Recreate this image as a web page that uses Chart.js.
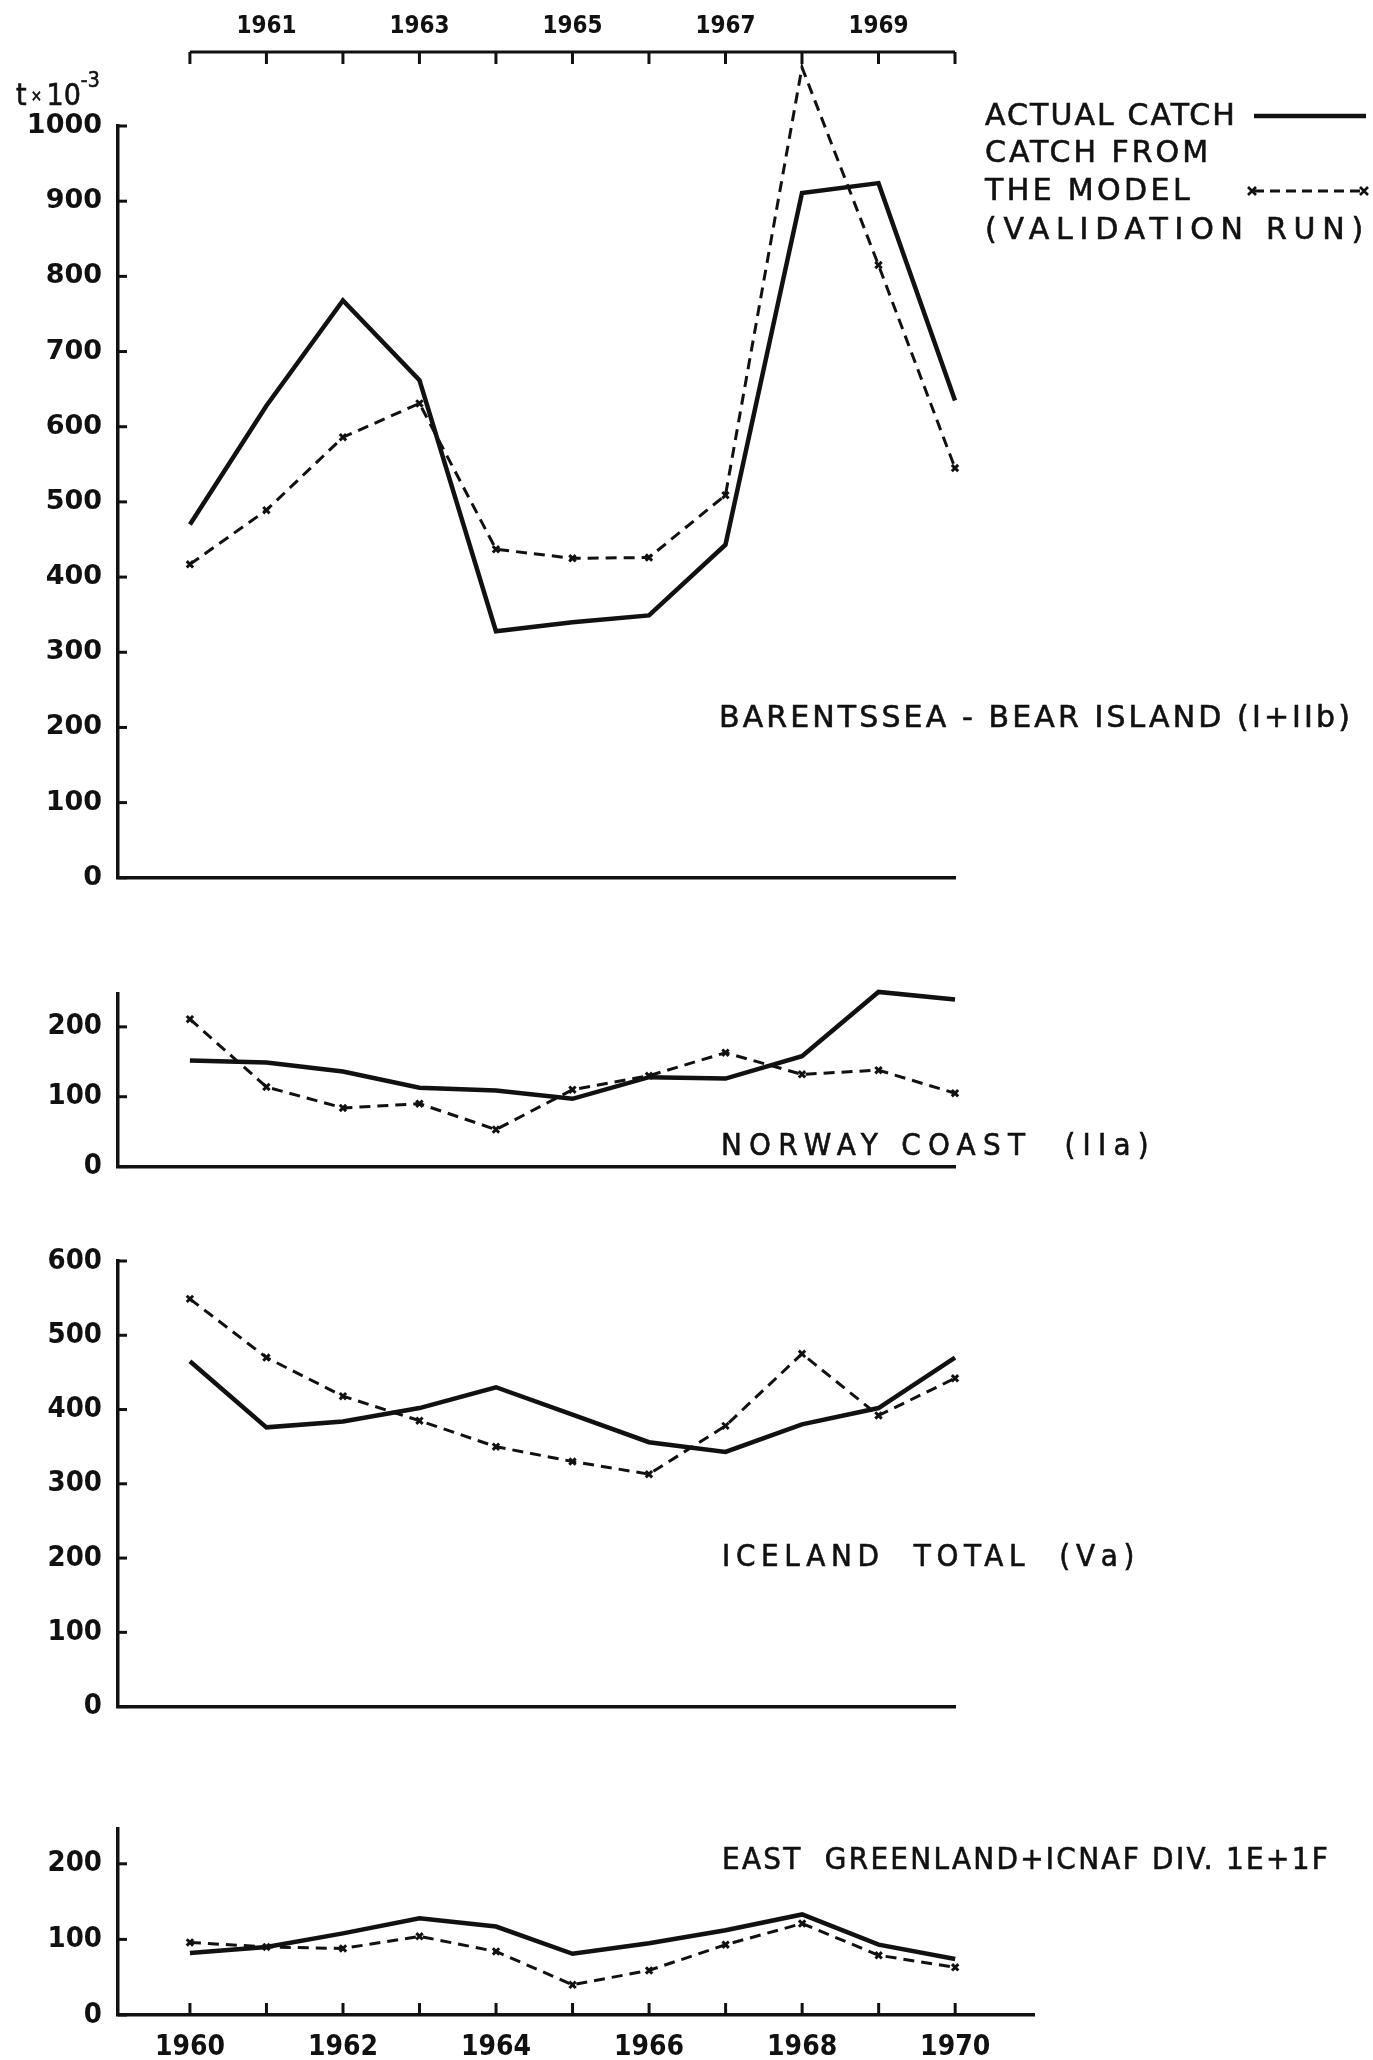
<!DOCTYPE html>
<html>
<head>
<meta charset="utf-8">
<script src="https://cdn.jsdelivr.net/npm/chart.js@4.4.0/dist/chart.umd.min.js"></script>
<style>
  body { margin: 0; background: #fff; }
  #page { position: relative; width: 1373px; height: 2060px; overflow: hidden; color: #111; font-family: 'DejaVu Sans', sans-serif; }
  canvas { position: absolute; left: 0; }
  .txt { position: absolute; white-space: pre; line-height: 1; z-index: 2; -webkit-text-stroke: 0.6px #111; }
  .cond { font-family: 'DejaVu Sans Condensed', 'DejaVu Sans', sans-serif; font-stretch: condensed; }
  svg { position: absolute; z-index: 2; }
</style>
</head>
<body>
<div id="page">
  <canvas id="c1" width="1000" height="910" style="top:0px"></canvas>
  <canvas id="c2" width="1000" height="240" style="top:960px"></canvas>
  <canvas id="c3" width="1000" height="520" style="top:1220px"></canvas>
  <canvas id="c4" width="1100" height="270" style="top:1790px"></canvas>

  <div class="txt cond" style="left:16px; top:80px; font-size:30px">t<span style="font-size:15px; vertical-align:4px"> × </span>10<span style="font-size:21px; position:relative; top:-18px">-3</span></div>

  <div class="txt" data-w="252" style="left:985px; top:100px; font-size:30px">ACTUAL CATCH</div>
  <div class="txt" data-w="226" style="left:985px; top:137px; font-size:30px">CATCH FROM</div>
  <div class="txt" data-w="208" style="left:985px; top:175px; font-size:30px">THE MODEL</div>
  <div class="txt" data-w="385" style="left:985px; top:214px; font-size:30px">(VALIDATION RUN)</div>
  <svg style="left:1244px; top:100px" width="129" height="110">
    <line x1="10" y1="16" x2="122" y2="16" stroke="#111" stroke-width="4.5"/>
    <line x1="10" y1="91" x2="118" y2="91" stroke="#111" stroke-width="3" stroke-dasharray="10 6"/>
    <path d="M4 87 l8 8 M12 87 l-8 8 M116 87 l8 8 M124 87 l-8 8" stroke="#111" stroke-width="2.6"/>
  </svg>

  <div class="txt" data-w="634" style="left:719px; top:702px; font-size:30px">BARENTSSEA - BEAR ISLAND (I+IIb)</div>
  <div class="txt cond" data-w="435" style="left:721px; top:1129px; font-size:31px">NORWAY COAST  (IIa)</div>
  <div class="txt cond" data-w="418" style="left:722px; top:1540px; font-size:31px">ICELAND  TOTAL  (Ⅴa)</div>
  <div class="txt cond" data-w="608" style="left:722px; top:1843px; font-size:31px">EAST  GREENLAND+ICNAF DIV. 1E+1F</div>
</div>
<script>
// catch in thousand tonnes
const years = [1960, 1961, 1962, 1963, 1964, 1965, 1966, 1967, 1968, 1969, 1970];
const barentsActual = [470, 628, 768, 662, 328, 340, 349, 443, 911, 924, 635];
const barentsModel = [417, 489, 586, 631, 437, 425, 426, 509, 1078, 815, 545];
const norwayActual = [152, 149, 136, 113, 109, 97, 128, 126, 158, 250, 239];
const norwayModel = [211, 114, 84, 90, 53, 110, 130, 163, 132, 138, 105];
const icelandActual = [465, 376, 384, 402, 430, 393, 356, 343, 380, 402, 470];
const icelandModel = [549, 470, 418, 385, 350, 330, 313, 378, 475, 392, 442];
const greenlandActual = [82, 90, 108, 128, 117, 81, 95, 112, 133, 93, 74];
const greenlandModel = [96, 90, 88, 104, 84, 40, 59, 93, 121, 79, 63];
const topAxisLabels = ['1961', '1963', '1965', '1967', '1969'];
const bottomAxisLabels = ['1960', '1962', '1964', '1966', '1968', '1970'];

const ink = '#111';

// fit the hand lettering widths
document.querySelectorAll('[data-w]').forEach(el => {
    const target = +el.dataset.w;
    const n = el.textContent.length;
    const w = el.getBoundingClientRect().width;
    el.style.letterSpacing = ((target - w) / n) + 'px';
});

// small tick marks drawn inside the frame, plus the year axis on top of the first panel
const frameTicks = {
    id: 'frameTicks',
    afterDraw(chart, args, opts) {
        const { ctx, chartArea, scales: { x, y } } = chart;
        ctx.save();
        ctx.strokeStyle = ink;
        ctx.lineWidth = 3;
        y.ticks.forEach((t, i) => {
            const py = y.getPixelForTick(i);
            ctx.beginPath();
            ctx.moveTo(chartArea.left, py);
            ctx.lineTo(chartArea.left + 9, py);
            ctx.stroke();
        });
        if (opts.bottomTicks) {
            years.forEach(yr => {
                const px = x.getPixelForValue(yr);
                ctx.beginPath();
                ctx.moveTo(px, chartArea.bottom);
                ctx.lineTo(px, chartArea.bottom - 12);
                ctx.stroke();
            });
        }
        if (opts.topAxis) {
            const ty = opts.topAxis;
            ctx.beginPath();
            ctx.moveTo(x.getPixelForValue(years[0]), ty);
            ctx.lineTo(x.getPixelForValue(years[years.length - 1]), ty);
            ctx.stroke();
            years.forEach(yr => {
                const px = x.getPixelForValue(yr);
                ctx.beginPath();
                ctx.moveTo(px, ty);
                ctx.lineTo(px, ty + 12);
                ctx.stroke();
            });
            ctx.fillStyle = ink;
            ctx.font = "bold 24px 'DejaVu Sans Condensed', 'DejaVu Sans'";
            ctx.textAlign = 'center';
            ctx.textBaseline = 'middle';
            topAxisLabels.forEach(lbl => {
                ctx.fillText(lbl, x.getPixelForValue(+lbl), ty - 25);
            });
        }
        ctx.restore();
    }
};

function pts(arr) {
    return years.map((yr, i) => ({ x: yr, y: arr[i] }));
}

function panel(id, o) {
    return new Chart(document.getElementById(id), {
        type: 'line',
        data: {
            datasets: [{
                label: 'Actual catch',
                data: pts(o.actual),
                borderColor: ink,
                borderWidth: 4.5,
                pointRadius: 0,
                clip: false
            }, {
                label: 'Catch from the model (validation run)',
                data: pts(o.model),
                borderColor: ink,
                borderWidth: 3,
                borderDash: [11, 7],
                pointStyle: 'crossRot',
                pointRadius: 4.5,
                pointBorderWidth: 3,
                pointBorderColor: ink,
                clip: false
            }]
        },
        options: {
            responsive: false,
            animation: false,
            layout: { padding: o.pad },
            plugins: {
                legend: { display: false },
                tooltip: { enabled: false },
                frameTicks: { topAxis: o.topAxis, bottomTicks: o.bottom }
            },
            scales: {
                x: {
                    type: 'linear',
                    min: 1959.06,
                    max: o.xMax,
                    grid: { display: false },
                    border: { color: ink, width: 3.5 },
                    afterBuildTicks: s => { s.ticks = years.map(v => ({ value: v })); },
                    afterFit: s => { s.height = o.bottom ? 45 : 0; },
                    ticks: {
                        display: !!o.bottom,
                        autoSkip: false,
                        maxRotation: 0,
                        padding: 8,
                        color: ink,
                        font: { family: "'DejaVu Sans Condensed', 'DejaVu Sans'", size: 28, weight: 'bold' },
                        callback: v => bottomAxisLabels.includes(String(v)) ? String(v) : ''
                    }
                },
                y: {
                    min: 0,
                    max: o.yMax,
                    grid: { display: false, drawTicks: false },
                    border: { color: ink, width: 3.5 },
                    afterFit: s => { s.width = 118; },
                    ticks: {
                        stepSize: 100,
                        includeBounds: false,
                        padding: 16,
                        color: ink,
                        font: o.yFont,
                        callback: v => String(v)
                    }
                }
            }
        },
        plugins: [frameTicks]
    });
}

const condFont = { family: "'DejaVu Sans Condensed', 'DejaVu Sans'", size: 29, weight: 'bold' };

panel('c1', {
    actual: barentsActual, model: barentsModel,
    yMax: 1000, xMax: 1970.0,
    pad: { top: 126, bottom: 23, left: 0, right: 45 },
    topAxis: 52,
    yFont: { family: "'DejaVu Sans'", size: 27, weight: 'bold' }
});
panel('c2', {
    actual: norwayActual, model: norwayModel,
    yMax: 247, xMax: 1970.0,
    pad: { top: 34, bottom: 18, left: 0, right: 45 },
    yFont: condFont
});
panel('c3', {
    actual: icelandActual, model: icelandModel,
    yMax: 600, xMax: 1970.0,
    pad: { top: 41, bottom: 27, left: 0, right: 45 },
    yFont: condFont
});
panel('c4', {
    actual: greenlandActual, model: greenlandModel,
    yMax: 246, xMax: 1971.03,
    pad: { top: 39, bottom: 0, left: 0, right: 66 },
    bottom: true,
    yFont: condFont
});
</script>
</body>
</html>
